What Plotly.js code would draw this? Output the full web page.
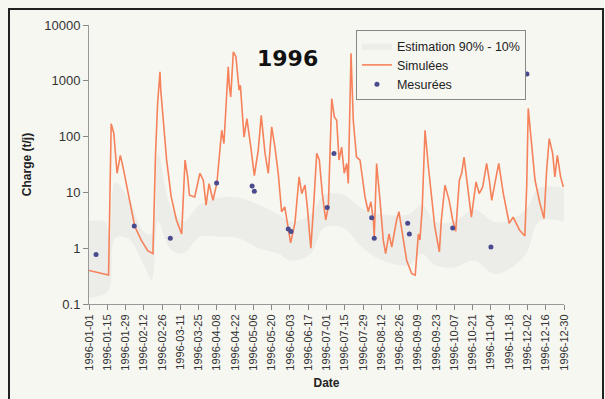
<!DOCTYPE html>
<html>
<head>
<meta charset="utf-8">
<script src="https://cdn.plot.ly/plotly-3.0.1.min.js"></script>
<style>
  html, body { margin: 0; padding: 0; background: #f7f7f2; overflow: hidden; }
  #wrap { position: relative; width: 605px; height: 399px; overflow: hidden; }
  #chart { width: 605px; height: 399px; }
  #frame { position: absolute; left: 8px; top: 8px; width: 592px; height: 420px;
           border: 2.5px solid #222; border-bottom: none; pointer-events: none; }
</style>
</head>
<body>
<div id="wrap"><div id="chart"></div><div id="frame"></div></div>
<script>
// ---- DATA (day offsets from 1996-01-01) ----
const simDays = [0,15,17,19,21.5,24,26,33,35,40,45,49,51,52.6,54.4,55,57,59.5,63,67,71,73.6,75.6,77,81,85,87.6,89.7,92,95,98,101.7,103.4,106.7,107.5,108.6,110.6,112.6,115,116,118.8,121,124,126.7,129.7,132,134.9,137.4,140,142.5,145,147.6,150,152.7,154.5,157.8,161,163,165.5,167.3,170,172.4,174.5,176.5,178.8,181.4,183.4,186,188,189.8,191.6,193.6,195.6,197.5,198.7,200.8,202.5,205,207.7,211.5,214,216,217.9,218.6,220.4,223,225.5,227.3,229.9,232,235.7,237.5,240,243.4,247.3,250,252.4,253.6,255.4,257.5,260,262.6,265,268.5,270,272.8,276,278.7,281,283.8,285.6,287.4,290,293,296.6,299,301.7,304.7,306.8,308.6,311,314,317.5,322,325,330,334,335.4,336.6,338.7,341.8,345.6,348.7,350.7,352.7,355.3,357,358.9,361.4,363.5];
const simValues = [0.40,0.33,170,115,22,46,29,4.2,2.5,1.4,0.9,0.8,50,400,1450,680,196,38,8.3,3.2,1.8,38,19,8.9,8.3,22,16.5,5.9,14.4,7.2,14.6,130,75,1780,830,516,3300,2700,680,830,98,210,65,20,57,240,50,22,150,65,22,4.5,5.5,2.25,1.25,2.8,19,9.5,13.5,5.5,1.0,7.2,50,38,9.5,3.2,5.5,480,225,196,38,65,22,33,14.4,3100,196,43,38,8.3,4.5,6.8,3.2,1.6,33,7.2,1.4,0.8,1.8,1.05,3.2,4.5,1.8,0.61,0.35,0.33,1.8,1.4,5.5,130,30,7.2,2.4,0.86,3.2,13.5,7.2,3.2,2.0,16.5,22,43,14.4,3.6,15.4,9.5,12.5,33,16.5,7.2,14.4,33,9.5,2.8,3.6,2.1,1.65,12.5,320,86,16.5,6.3,3.4,25,92,50,19,46,19,12.5];

const measDays = [5.4,34.7,62.3,97.8,125,126.7,152.7,154.8,182.6,187.7,216.6,218.6,244.2,245.5,278.7,308,335.6];
const measValues = [0.77,2.5,1.5,14.8,13,10.5,2.2,2.0,5.35,50,3.5,1.5,2.8,1.8,2.3,1.05,1320];

const bandDays = [0,12,16,20,30,42,48,53,62,72,85,100,115,130,145,155,170,180,195,210,225,245,255,265,280,295,310,320,335,345,364];
const bandUpper = [3,3,1.5,15,8,2,1.8,50,6,3,6,8,8,6,4,3,4,9,9,5,4,4,6,3,3,5,3,3,5,12,12];
const bandLower = [0.13,0.15,0.2,1.5,1.5,0.5,0.27,3,1,0.8,1.6,1.6,1.5,1,0.8,0.6,0.8,2.3,2.3,1,0.6,0.5,0.8,0.5,0.45,0.6,0.35,0.4,0.8,3,3];

const xTickLabels = ["1996-01-01","1996-01-15","1996-01-29","1996-02-12","1996-02-26","1996-03-11","1996-03-25","1996-04-08","1996-04-22","1996-05-06","1996-05-20","1996-06-03","1996-06-17","1996-07-01","1996-07-15","1996-07-29","1996-08-12","1996-08-26","1996-09-09","1996-09-23","1996-10-07","1996-10-21","1996-11-04","1996-11-18","1996-12-02","1996-12-16","1996-12-30"];
const yTickVals = [0.1,1,10,100,1000,10000];
const yTickText = ["0.1","1","10","100","1000","10000"];

// day offset -> date string
function toDate(d) {
  const t = new Date(Date.UTC(1996,0,1) + d*86400000);
  return t.toISOString().slice(0,16).replace('T',' ');
}

const traces = [
  { x: bandDays.map(toDate), y: bandLower, type: 'scatter', mode: 'lines',
    line: {width: 0, color: 'rgba(0,0,0,0)', shape: 'spline'}, showlegend: false, hoverinfo: 'skip' },
  { x: bandDays.map(toDate), y: bandUpper, type: 'scatter', mode: 'lines', fill: 'tonexty',
    fillcolor: 'rgba(200,200,195,0.22)', line: {width: 0, color: 'rgba(0,0,0,0)', shape: 'spline'},
    name: 'Estimation 90% - 10%' },
  { x: simDays.map(toDate), y: simValues, type: 'scatter', mode: 'lines',
    line: {color: '#f5825a', width: 1.6}, name: 'Simulées' },
  { x: measDays.map(toDate), y: measValues, type: 'scatter', mode: 'markers',
    marker: {color: '#4a4a8e', size: 5}, name: 'Mesurées' }
];

const layout = {
  width: 605, height: 399,
  margin: {l: 89, r: 41, t: 25, b: 95},
  paper_bgcolor: '#f7f7f2', plot_bgcolor: '#f7f7f2',
  font: {family: 'Liberation Sans, Arial, sans-serif', color: '#222', size: 11},
  showlegend: true,
  legend: {x: 0.562, y: 0.982, xanchor: 'left', yanchor: 'top', traceorder: 'normal',
    bgcolor: '#f7f7f2', bordercolor: '#888', borderwidth: 1, itemwidth: 30,
    font: {size: 12.5, color: '#222'}, tracegroupgap: 0},
  xaxis: {
    type: 'date', range: ['1996-01-01', '1996-12-30'],
    tickmode: 'array', tickvals: xTickLabels, ticktext: xTickLabels,
    tickangle: -90, ticks: 'outside', ticklen: 5, tickcolor: '#888',
    showgrid: false, zeroline: false, showline: true, linecolor: '#999', linewidth: 1,
    tickfont: {size: 11, color: '#333'},
    title: {text: '<b>Date</b>', font: {size: 12, color: '#222'}, standoff: 8}
  },
  yaxis: {
    type: 'log', range: [-1, 4],
    tickmode: 'array', tickvals: yTickVals, ticktext: yTickText,
    ticks: 'outside', ticklen: 5, tickcolor: '#888',
    showgrid: false, zeroline: false, showline: true, linecolor: '#999', linewidth: 1,
    tickfont: {size: 13, color: '#333'},
    title: {text: '<b>Charge (t/j)</b>', font: {size: 12, color: '#222'}, standoff: 10}
  },
  annotations: [{
    text: '<b>1996</b>', xref: 'paper', yref: 'paper', x: 0.418, y: 0.88,
    xanchor: 'center', yanchor: 'middle', showarrow: false,
    font: {size: 22, color: '#111', family: 'DejaVu Sans, sans-serif'}
  }]
};

Plotly.newPlot('chart', traces, layout, {displayModeBar: false, staticPlot: true});
</script>
</body>
</html>
